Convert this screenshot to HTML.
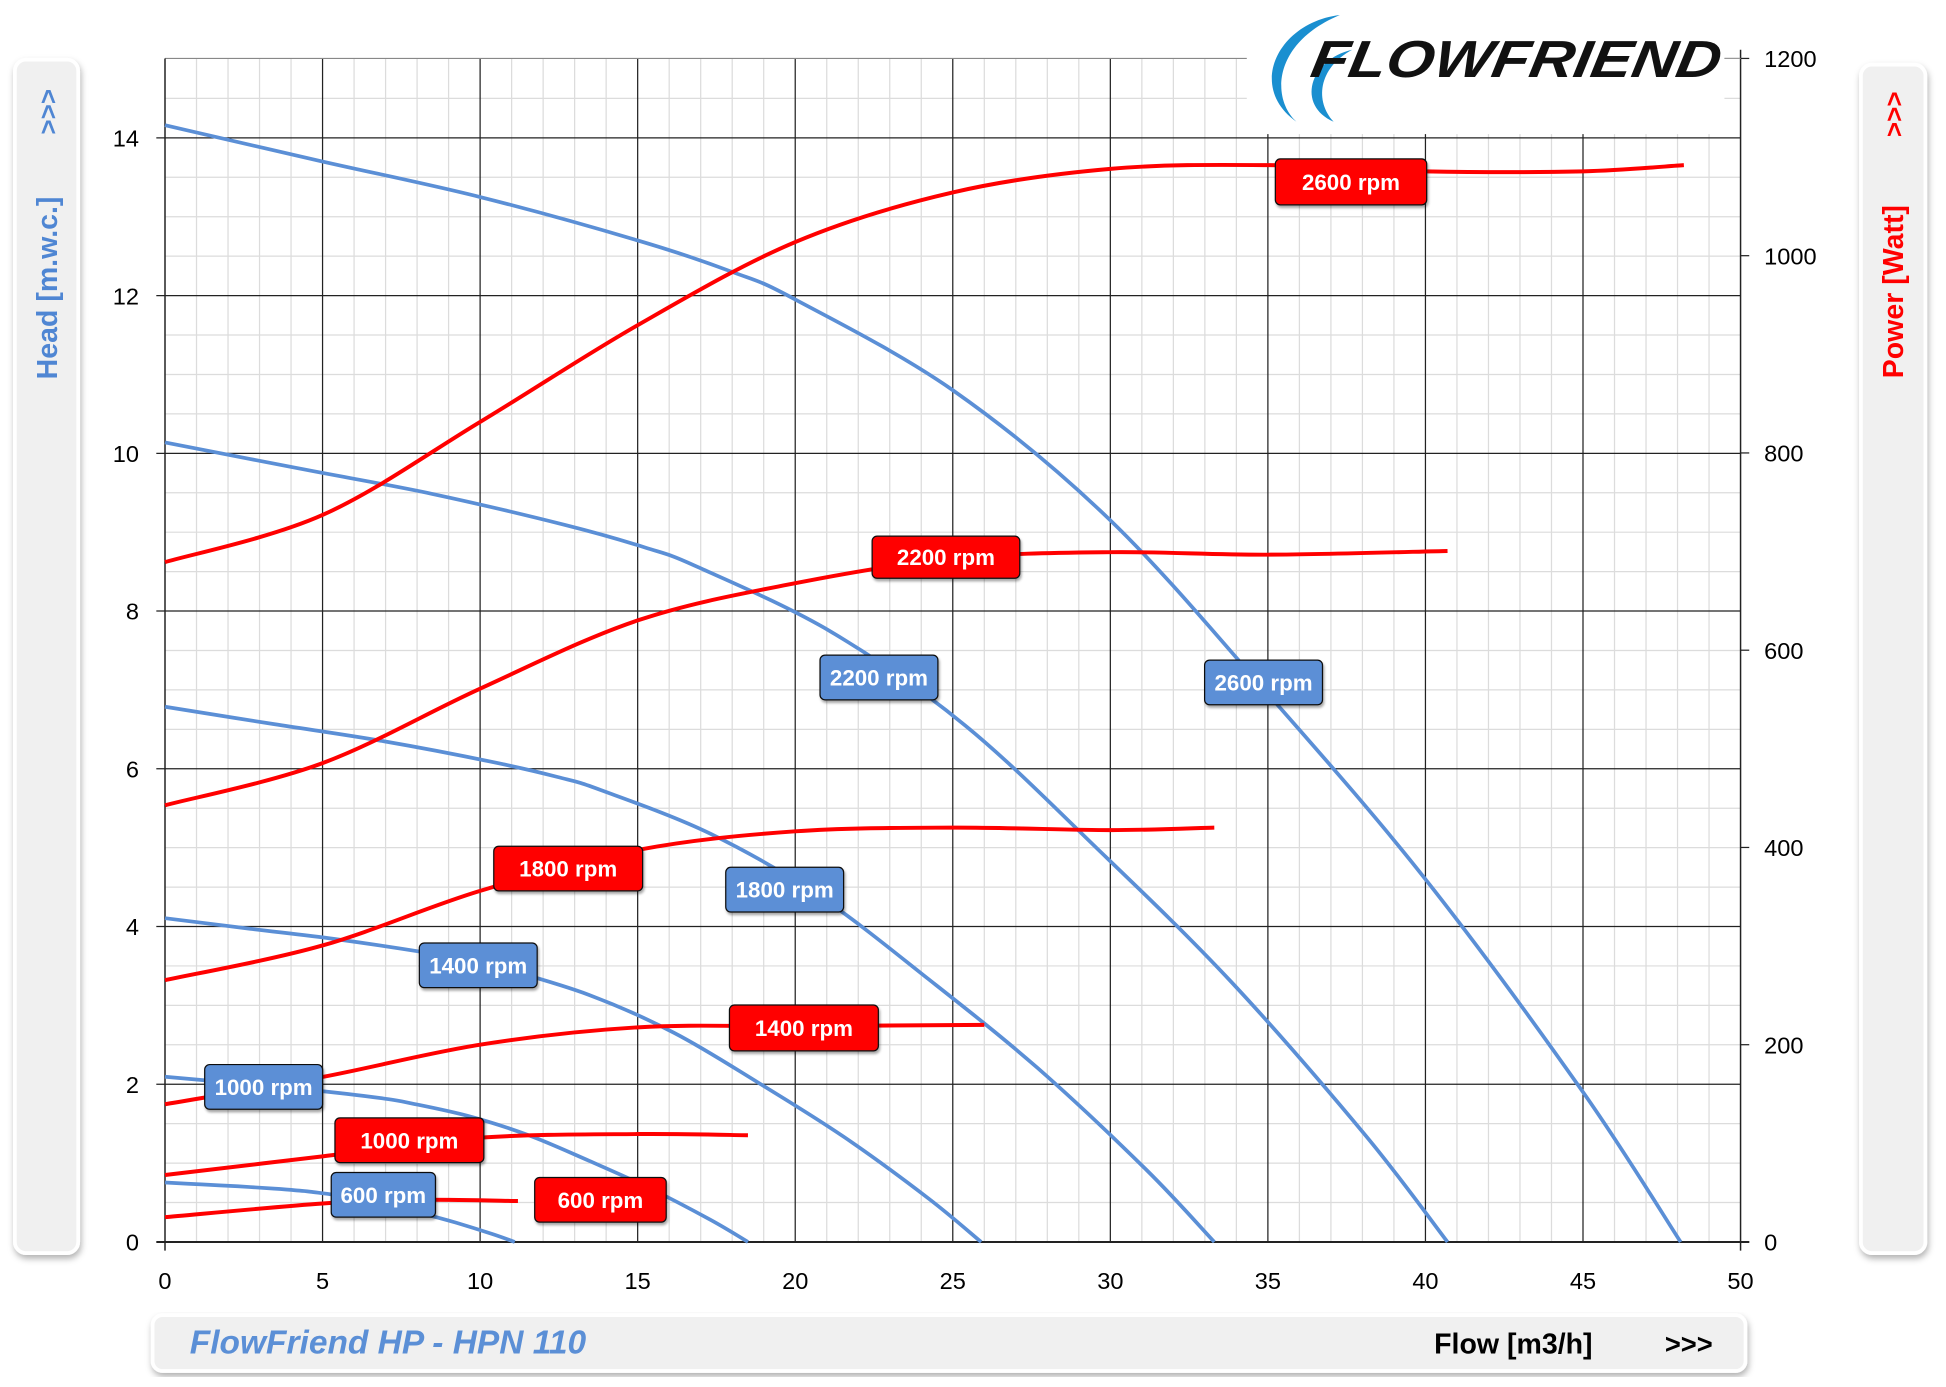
<!DOCTYPE html>
<html><head><meta charset="utf-8"><style>
html,body{margin:0;padding:0;background:#fff}
svg{display:block}
text{font-family:"Liberation Sans",sans-serif}
</style></head><body>
<svg id="s" width="1946" height="1387" viewBox="0 0 1568.6 1117.8" xmlns="http://www.w3.org/2000/svg">
<defs>
<filter id="sh" x="-20%" y="-5%" width="150%" height="115%"><feDropShadow dx="1" dy="3" stdDeviation="2.5" flood-color="#000" flood-opacity="0.3"/></filter>
<filter id="bs" x="-10%" y="-10%" width="130%" height="140%"><feDropShadow dx="1" dy="2" stdDeviation="1" flood-color="#000" flood-opacity="0.35"/></filter>
</defs>
<rect width="1570" height="1120" fill="#fff"/>
<rect x="12" y="48" width="51" height="962" rx="9" fill="#f0f0f0" stroke="#fff" stroke-width="3" filter="url(#sh)"/>
<rect x="1500" y="52" width="52" height="958" rx="9" fill="#f0f0f0" stroke="#fff" stroke-width="3" filter="url(#sh)"/>
<rect x="123" y="1060" width="1284" height="45" rx="8" fill="#f0f0f0" stroke="#fff" stroke-width="3" filter="url(#sh)"/>
<g id="grid"></g>
<rect x="1005" y="0" width="385" height="108" fill="#fff"/>
<path d="M1080 12 C1030 18 1005 70 1045 98 C1025 80 1025 35 1080 12Z" fill="#1a8fd0"/>
<path d="M1090 40 C1055 48 1045 85 1075 98 C1060 82 1062 55 1090 40Z" fill="#1a8fd0"/>
<text x="1055" y="62" font-size="42" font-weight="bold" font-style="italic" fill="#111" textLength="330" lengthAdjust="spacingAndGlyphs" transform="skewX(-10) translate(11,0)">FLOWFRIEND</text>
<line x1="1390" y1="47" x2="1403" y2="47" stroke="#999"/>
<g id="curves"></g>
<g id="labels"></g>
<text transform="translate(46,90) rotate(-90)" font-size="21" font-weight="bold" fill="#4f86d3" text-anchor="middle">&gt;&gt;&gt;</text>
<text transform="translate(46,232) rotate(-90)" font-size="23" font-weight="bold" fill="#4f86d3" text-anchor="middle">Head [m.w.c.]</text>
<text transform="translate(1534,92) rotate(-90)" font-size="21" font-weight="bold" fill="#ff0000" text-anchor="middle">&gt;&gt;&gt;</text>
<text transform="translate(1534,235) rotate(-90)" font-size="23" font-weight="bold" fill="#ff0000" text-anchor="middle">Power  [Watt]</text>
<text x="153" y="1091" font-size="27" font-weight="bold" font-style="italic" fill="#5b8fd6">FlowFriend HP - HPN 110</text>
<text x="1156" y="1091" font-size="23" font-weight="bold" fill="#000">Flow [m3/h]</text>
<text x="1342" y="1091" font-size="22" font-weight="bold" fill="#000">&gt;&gt;&gt;</text>
</svg>
<script>
var NS="http://www.w3.org/2000/svg";
function el(p,t,a,txt){var e=document.createElementNS(NS,t);for(var k in a)e.setAttribute(k,a[k]);if(txt)e.textContent=txt;p.appendChild(e);return e;}
var X=function(q){return 133+q*25.4;}, Y=function(h){return 1001-h*63.57;};
var g=document.getElementById('grid');
for(var q=0;q<=50;q++){ if(q%5) el(g,'line',{x1:X(q),y1:47,x2:X(q),y2:1001,stroke:'#dcdcdc','stroke-width':1}); }
for(var i=1;i<30;i++){ if(i%4) el(g,'line',{x1:133,y1:Y(i*0.5),x2:1403,y2:Y(i*0.5),stroke:'#dcdcdc','stroke-width':1}); }
for(var q=5;q<50;q+=5) el(g,'line',{x1:X(q),y1:47,x2:X(q),y2:1001,stroke:'#222','stroke-width':1});
for(var h=2;h<=14;h+=2) el(g,'line',{x1:126,y1:Y(h),x2:1403,y2:Y(h),stroke:'#222','stroke-width':1});
el(g,'line',{x1:133,y1:47,x2:1403,y2:47,stroke:'#888','stroke-width':1});
el(g,'line',{x1:133,y1:47,x2:133,y2:1008,stroke:'#222','stroke-width':1.2});
el(g,'line',{x1:1403,y1:40,x2:1403,y2:1008,stroke:'#222','stroke-width':1.2});
el(g,'line',{x1:126,y1:1001,x2:1410,y2:1001,stroke:'#222','stroke-width':1.6});
for(var h=0;h<=14;h+=2) el(g,'text',{x:112,y:Y(h)+7,'font-size':19,'text-anchor':'end',fill:'#000'},String(h));
for(var p=0;p<=1200;p+=200){var yy=1001-p*0.795;el(g,'line',{x1:1403,y1:yy,x2:1410,y2:yy,stroke:'#222'});el(g,'text',{x:1422,y:yy+7,'font-size':19,fill:'#000'},String(p));}
for(var q=0;q<=50;q+=5) el(g,'text',{x:X(q),y:1039,'font-size':19,'text-anchor':'middle',fill:'#000'},String(q));
function path(pts){var d='M'+pts[0][0]+' '+pts[0][1];for(var i=0;i<pts.length-1;i++){var p0=pts[i-1]||pts[i],p1=pts[i],p2=pts[i+1],p3=pts[i+2]||p2;
d+=' C'+(p1[0]+(p2[0]-p0[0])/6).toFixed(1)+' '+(p1[1]+(p2[1]-p0[1])/6).toFixed(1)+' '+(p2[0]-(p3[0]-p1[0])/6).toFixed(1)+' '+(p2[1]-(p3[1]-p1[1])/6).toFixed(1)+' '+p2[0].toFixed(1)+' '+p2[1].toFixed(1);}return d;}
var c=document.getElementById('curves');
var base=[[0,14.16],[5,13.7],[10,13.25],[15,12.7],[18,12.3],[20,11.95],[25,10.8],[30,9.15],[35,6.95],[40,4.6],[45,1.9],[48.1,0]];
[2600,2200,1800,1400,1000,600].forEach(function(n){var r=n/2600;el(c,'path',{d:path(base.map(function(p){return [X(p[0]*r),Y(p[1]*r*r)];})),fill:'none',stroke:'#5b8fd6','stroke-width':3});});
var red=[
[[0,453],[5,415],[10,340],[15,262],[20,195],[25,155],[30,136],[35,133],[40,138],[45,138],[48.2,133]],
[[0,649],[5,615],[10,555],[15,500],[20,470],[25,450],[30,445],[35,447],[40.7,444]],
[[0,790],[5,762],[10,718],[15,685],[20,670],[25,667],[30,669],[33.3,667]],
[[0,890],[5,868],[10,842],[15,828],[20,827],[26,826]],
[[0,947],[5,932],[10,917],[15,914],[18.5,915]],
[[0,981],[5,970],[8,967],[11.2,968]]];
red.forEach(function(a){el(c,'path',{d:path(a.map(function(p){return [X(p[0]),p[1]];})),fill:'none',stroke:'#ff0000','stroke-width':3.2});});
var L=document.getElementById('labels');
function lab(x1,y1,x2,y2,t,col){el(L,'rect',{x:x1,y:y1,width:x2-x1,height:y2-y1,rx:4,fill:col,stroke:'#111','stroke-width':1,filter:'url(#bs)'});el(L,'text',{x:(x1+x2)/2,y:(y1+y2)/2+6.5,'font-size':18,'font-weight':'bold',fill:'#fff','text-anchor':'middle'},t);}
var R='#ff0000',B='#5b8fd6';
lab(1028,128,1150,165,'2600 rpm',R);lab(703,432,822,466,'2200 rpm',R);lab(398,682,518,718,'1800 rpm',R);
lab(588,810,708,847,'1400 rpm',R);lab(270,901,390,937,'1000 rpm',R);lab(431,949,537,985,'600 rpm',R);
lab(661,528,756,564,'2200 rpm',B);lab(971,532,1066,568,'2600 rpm',B);lab(585,699,680,735,'1800 rpm',B);
lab(338,760,433,796,'1400 rpm',B);lab(165,858,260,894,'1000 rpm',B);lab(267,945,351,981,'600 rpm',B);
</script>
</body></html>
